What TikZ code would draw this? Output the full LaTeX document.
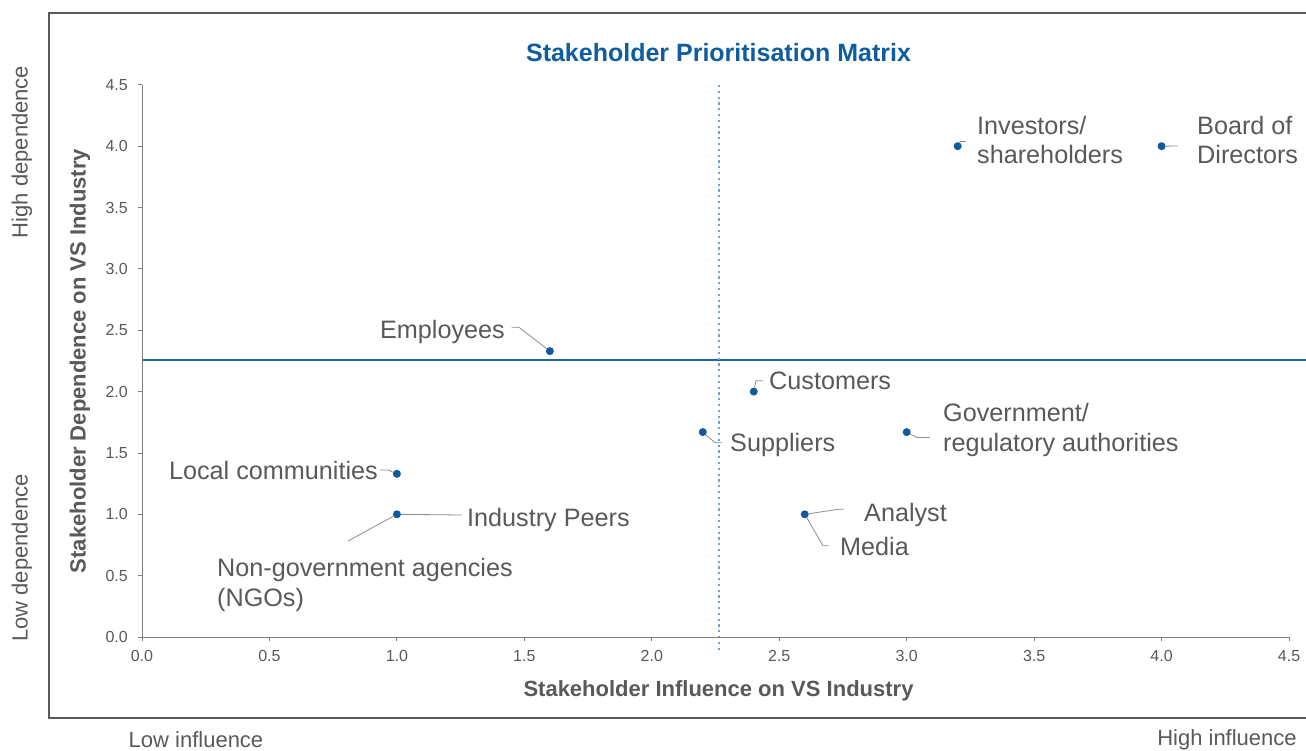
\documentclass[tikz,border=0pt]{standalone}
\usepackage{fontspec}
\setmainfont{Liberation Sans}
\definecolor{txt}{HTML}{595959}
\definecolor{axisc}{HTML}{7F7F7F}
\definecolor{dotc}{HTML}{0F5A9C}
\definecolor{titc}{HTML}{0F5C9E}
\definecolor{hline}{HTML}{1F64A8}
\definecolor{vline}{HTML}{6FA3D6}
\definecolor{leadc}{HTML}{8C8C8C}
\begin{document}
\begin{tikzpicture}[x=1pt,y=-1pt,
  frame/.style={draw=txt,line width=1.4pt},
  axisline/.style={draw=axisc,line width=0.9pt},
  dot/.style={circle,fill=dotc,inner sep=0pt,minimum size=8pt},
  lead/.style={draw=leadc,line width=0.8pt},
  lbl/.style={font=\fontsize{25.2}{29.5}\selectfont,text=txt,inner sep=0pt,align=left},
  tick/.style={font=\fontsize{16}{19}\selectfont,text=txt,inner sep=0pt},
  corner/.style={font=\fontsize{22}{26}\selectfont,text=txt,inner sep=0pt},
  axtitle/.style={font=\fontsize{22}{26}\selectfont\bfseries,text=txt,inner sep=0pt},
  ttl/.style={font=\fontsize{25}{30}\selectfont\bfseries,text=titc,inner sep=0pt}]
\useasboundingbox (0,0) rectangle (1306,751);
% frame
\draw[frame] (1306,13) -- (49,13) -- (49,718) -- (1306,718);
% title
\node[ttl] (title) at (718.5,53) {Stakeholder Prioritisation Matrix};
% quadrant lines
\draw[hline,line width=1.1pt] (142,360) -- (1306,360);
\draw[vline,line width=1.2pt,dash pattern=on 2.2pt off 3.6pt] (719,85) -- (719,652);
% axes
\draw[axisline] (142,85) -- (142,637) -- (1289,637);
\foreach \i/\t in {0/0.0,1/0.5,2/1.0,3/1.5,4/2.0,5/2.5,6/3.0,7/3.5,8/4.0,9/4.5}{
  \draw[axisline] ({142+127.45*\i},637) -- ({142+127.45*\i},641);
  \draw[axisline] (138,{637-61.35*\i}) -- (142,{637-61.35*\i});
  \node[tick] (xt\i) at ({142+127.45*\i},656) {\t};
  \node[tick,anchor=east] (yt\i) at (128,{637-61.35*\i}) {\t};
}
% axis titles
\node[axtitle] (xtitle) at (718.5,691) {Stakeholder Influence on VS Industry};
\node[axtitle,rotate=90] (ytitle) at (80,361) {Stakeholder Dependence on VS Industry};
% corner labels
\node[corner,rotate=90] (hidep) at (22,152) {High dependence};
\node[corner,rotate=90] (lodep) at (22,558) {Low dependence};
\node[corner] (loinf) at (196,740) {Low influence};
\node[corner] (hiinf) at (1227,740) {High influence};
% data points
\node[dot] (bod) at ({142+254.9*4},{637-122.7*4}) {};
\node[dot] (inv) at ({142+254.9*3.2},{637-122.7*4}) {};
\node[dot] (emp) at ({142+254.9*1.6},{637-122.7*2.33}) {};
\node[dot] (cus) at ({142+254.9*2.4},{637-122.7*2}) {};
\node[dot] (sup) at ({142+254.9*2.2},{637-122.7*1.67}) {};
\node[dot] (gov) at ({142+254.9*3},{637-122.7*1.67}) {};
\node[dot] (loc) at ({142+254.9*1},{637-122.7*1.33}) {};
\node[dot] (ind) at ({142+254.9*1},{637-122.7*1}) {};
\node[dot] (ana) at ({142+254.9*2.6},{637-122.7*1}) {};
% labels (multi-line nodes: base = last line)
\node[lbl,anchor=base west] (bodL) at (1197,164) {Board of\\Directors};
\node[lbl,anchor=base west] (invL) at (977,164) {Investors/\\shareholders};
\node[lbl,anchor=base east] (empL) at (505,338) {Employees};
\node[lbl,anchor=base west] (cusL) at (769,389) {Customers};
\node[lbl,anchor=base west] (supL) at (730,451) {Suppliers};
\node[lbl,anchor=base west] (govL) at (943,451) {Government/\\regulatory authorities};
\node[lbl,anchor=base east] (locL) at (378,479) {Local communities};
\node[lbl,anchor=base west] (indL) at (467,526) {Industry Peers};
\node[lbl,anchor=base west] (ngoL) at (217,606) {Non-government agencies\\(NGOs)};
\node[lbl,anchor=base west] (anaL) at (864,521) {Analyst};
\node[lbl,anchor=base west] (medL) at (840,555) {Media};
% leader lines
\coordinate (bodE) at (1178,146);
\coordinate (invB) at (960,141.5);
\coordinate (invE) at (966,141.5);
\coordinate (empB) at (519,327.3);
\coordinate (empE) at (511.5,327.3);
\coordinate (cusB) at (756,380.7);
\coordinate (cusE) at (763,380.7);
\coordinate (supB) at (715,442.7);
\coordinate (supE) at (722,442.7);
\coordinate (govB) at (917,437.5);
\coordinate (govE) at (929.5,437.5);
\coordinate (locB) at (388,470);
\coordinate (locE) at (380,470);
\coordinate (indE) at (462,515);
\coordinate (ngoE) at (348,541);
\coordinate (anaB) at (838.5,509.3);
\coordinate (anaE) at (843.5,509.3);
\coordinate (medB) at (823,545.7);
\coordinate (medE) at (828.5,545.7);
\draw[lead] (bod) -- (bodE);
\draw[lead] (inv) -- (invB) -- (invE);
\draw[lead] (emp) -- (empB) -- (empE);
\draw[lead] (cus) -- (cusB) -- (cusE);
\draw[lead] (sup) -- (supB) -- (supE);
\draw[lead] (gov) -- (govB) -- (govE);
\draw[lead] (loc) -- (locB) -- (locE);
\draw[lead] (ind) -- (indE);
\draw[lead] (ind) -- (ngoE);
\draw[lead] (ana) -- (anaB) -- (anaE);
\draw[lead] (ana) -- (medB) -- (medE);
\end{tikzpicture}
\end{document}
